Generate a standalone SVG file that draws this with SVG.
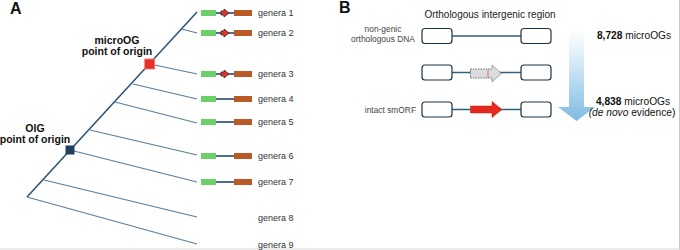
<svg xmlns="http://www.w3.org/2000/svg" width="680" height="250" viewBox="0 0 680 250">
<defs>
<style>
text{font-family:"Liberation Sans",Arial,sans-serif;fill:#222}
.panel{font-size:16px;font-weight:bold;fill:#111}
.gen{font-size:9px;fill:#333}
.orig{font-size:10.5px;font-weight:bold;text-anchor:middle;fill:#111}
.lbl{font-size:8.4px;fill:#444}
.br{stroke:#5b7b97;stroke-width:1.1;fill:none}
.trunk{stroke:#2f5677;stroke-width:1.6;fill:none}
.gline{stroke:#27496a;stroke-width:1.6}
.green{fill:#6dcf68}
.brown{fill:#b95a27}
.mini{fill:#e5322b;stroke:#3a2020;stroke-width:0.8}
.box{fill:#fff;stroke:#1d3247;stroke-width:1.2}
.bline{stroke:#34607f;stroke-width:1.3}
.cnt{font-size:10.2px;text-anchor:middle;fill:#111}
</style>
<linearGradient id="blue" x1="0" y1="0" x2="0" y2="1">
<stop offset="0" stop-color="#ffffff"/>
<stop offset="0.35" stop-color="#d6eaf7"/>
<stop offset="1" stop-color="#7dbbe3"/>
</linearGradient>
</defs>
<rect width="680" height="250" fill="#fff"/>
<line x1="679.5" y1="0" x2="679.5" y2="250" stroke="#c8c8c8"/>
<line x1="0" y1="249" x2="680" y2="249" stroke="#d8d8d8"/>

<text class="panel" x="10" y="14">A</text>
<text class="panel" x="339" y="13">B</text>

<g id="connectors">
<line class="trunk" x1="27" y1="197" x2="197" y2="12"/>
<line class="br" x1="182" y1="29" x2="197" y2="33"/>
<line class="br" x1="150" y1="64" x2="197" y2="74"/>
<line class="br" x1="133" y1="84" x2="197" y2="99"/>
<line class="br" x1="115" y1="102" x2="197" y2="123"/>
<line class="br" x1="90" y1="130" x2="197" y2="155"/>
<line class="br" x1="70" y1="150" x2="197" y2="182"/>
<line class="br" x1="44" y1="180" x2="197" y2="217"/>
<line class="br" x1="27" y1="197" x2="197" y2="244"/>
</g>

<g id="microOG-origin">
<rect x="144.7" y="59" width="10" height="10" fill="#e8302a" stroke="#f07a70" stroke-width="0.8"/>
<text class="orig" x="117" y="44">microOG</text>
<text class="orig" x="117" y="55">point of origin</text>
</g>
<g id="OIG-origin">
<rect x="65.5" y="145.5" width="9" height="9" fill="#1e3e5e"/>
<text class="orig" x="35" y="132">OIG</text>
<text class="orig" x="35" y="143">point of origin</text>
</g>

<g id="genera1">
<line class="gline" x1="214" y1="13" x2="236" y2="13"/>
<rect class="green" x="201" y="10" width="15" height="6"/>
<rect class="brown" x="234" y="10" width="18" height="6"/>
<polygon class="mini" points="221,11 224,11 224,9 229,13 224,17 224,15 221,15"/>
<text class="gen" x="258" y="16">genera 1</text>
</g>
<g id="genera2">
<line class="gline" x1="214" y1="33" x2="236" y2="33"/>
<rect class="green" x="201" y="30" width="15" height="6"/>
<rect class="brown" x="234" y="30" width="18" height="6"/>
<polygon class="mini" points="221,31 224,31 224,29 229,33 224,37 224,35 221,35"/>
<text class="gen" x="258" y="36">genera 2</text>
</g>
<g id="genera3">
<line class="gline" x1="214" y1="74" x2="236" y2="74"/>
<rect class="green" x="201" y="71" width="15" height="6"/>
<rect class="brown" x="234" y="71" width="18" height="6"/>
<polygon class="mini" points="221,72 224,72 224,70 229,74 224,78 224,76 221,76"/>
<text class="gen" x="258" y="77">genera 3</text>
</g>
<g id="genera4">
<line class="gline" x1="214" y1="99" x2="236" y2="99"/>
<rect class="green" x="201" y="96" width="15" height="6"/>
<rect class="brown" x="234" y="96" width="18" height="6"/>
<text class="gen" x="258" y="102">genera 4</text>
</g>
<g id="genera5">
<line class="gline" x1="214" y1="122" x2="236" y2="122"/>
<rect class="green" x="201" y="119" width="15" height="6"/>
<rect class="brown" x="234" y="119" width="18" height="6"/>
<text class="gen" x="258" y="125">genera 5</text>
</g>
<g id="genera6">
<line class="gline" x1="214" y1="156" x2="236" y2="156"/>
<rect class="green" x="201" y="153" width="15" height="6"/>
<rect class="brown" x="234" y="153" width="18" height="6"/>
<text class="gen" x="258" y="159">genera 6</text>
</g>
<g id="genera7">
<line class="gline" x1="214" y1="182" x2="236" y2="182"/>
<rect class="green" x="201" y="179" width="15" height="6"/>
<rect class="brown" x="234" y="179" width="18" height="6"/>
<text class="gen" x="258" y="185">genera 7</text>
</g>
<g id="genera8">
<text class="gen" x="258" y="221">genera 8</text>
</g>
<g id="genera9">
<text class="gen" x="258" y="248">genera 9</text>
</g>

<text x="490" y="18" font-size="10" text-anchor="middle" fill="#333">Orthologous intergenic region</text>

<g id="row1">
<text class="lbl" x="383" y="32" text-anchor="middle">non-genic</text>
<text class="lbl" x="383" y="42" text-anchor="middle">orthologous DNA</text>
<line class="bline" x1="452" y1="36" x2="521" y2="36"/>
<rect class="box" x="422" y="28.5" width="30" height="15" rx="3"/>
<rect class="box" x="521" y="28.5" width="30" height="15" rx="3"/>
</g>
<g id="row2">
<line class="bline" x1="452" y1="72.5" x2="521" y2="72.5"/>
<rect class="box" x="422" y="65" width="30" height="15" rx="3"/>
<rect class="box" x="521" y="65" width="30" height="15" rx="3"/>
<polygon points="470.5,69 492,69 492,65 501.5,73.5 492,82 492,78 470.5,78" fill="#dcdcdc" stroke="#555" stroke-width="0.8" stroke-dasharray="1.5,1"/>
<line x1="488" y1="69.5" x2="488" y2="77.5" stroke="#d0505a" stroke-width="0.8"/>
</g>
<g id="row3">
<text class="lbl" x="416" y="112.5" text-anchor="end">intact smORF</text>
<line class="bline" x1="452" y1="109.5" x2="521" y2="109.5"/>
<rect class="box" x="422" y="102" width="30" height="15" rx="3"/>
<rect class="box" x="521" y="102" width="30" height="15" rx="3"/>
<polygon points="470.5,106 492,106 492,101.5 502,109.5 492,117.5 492,113 470.5,113" fill="#e7281f" stroke="#b01a14" stroke-width="0.5"/>
</g>

<g id="filter-arrow">
<polygon points="569,30 584,30 584,107 595,107 576.5,121 558,107 569,107" fill="url(#blue)"/>
</g>
<g id="counts">
<text class="cnt" x="634" y="39"><tspan font-weight="bold">8,728</tspan> microOGs</text>
<text class="cnt" x="633" y="104.5"><tspan font-weight="bold">4,838</tspan> microOGs</text>
<text class="cnt" x="632" y="116"><tspan font-style="italic">(de novo</tspan> evidence)</text>
</g>
</svg>
